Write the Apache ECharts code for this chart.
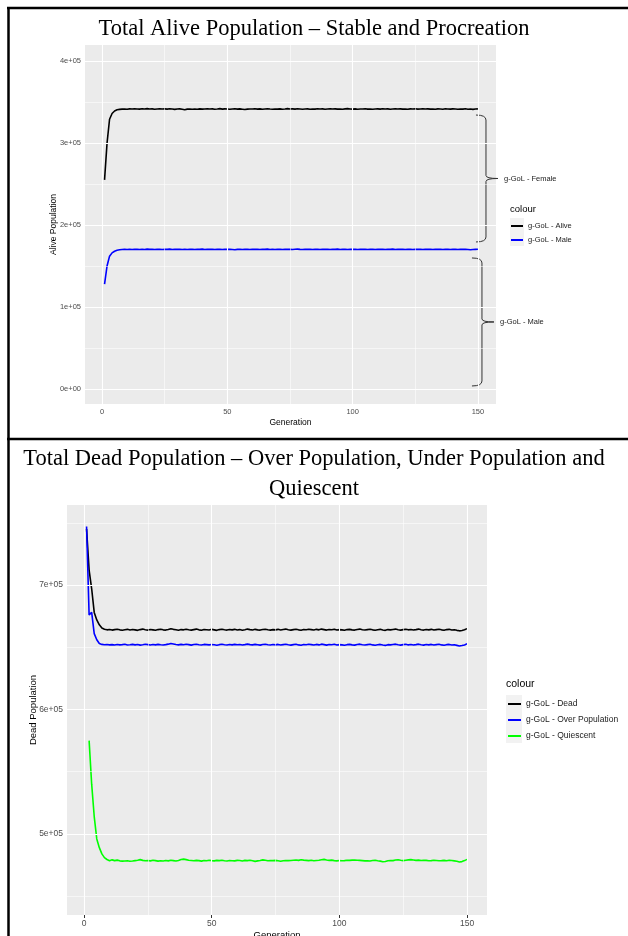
<!DOCTYPE html>
<html>
<head>
<meta charset="utf-8">
<script src="https://cdn.jsdelivr.net/npm/echarts@6/dist/echarts.min.js"></script>
<style>
  html, body { margin: 0; padding: 0; background: #fff; }
  #chart { width: 628px; height: 936px; }
</style>
</head>
<body>
<div id="chart"></div>
<script>
// generations 1..150
const generations = Array.from({ length: 150 }, (_, i) => i + 1);

// top panel values, thousands
const aliveK = [
  255, 300, 329, 336, 339, 340.5, 341.0, 341.3, 341.5, 341.2,
  341.6, 341.4, 341.8, 341.5, 341.3, 341.7, 341.5, 341.9, 341.4, 341.6,
  341.2, 341.5, 341.8, 341.4, 341.6, 341.3, 341.7, 341.5, 341.0, 341.4,
  341.6, 341.2, 340.6, 341.3, 341.5, 341.1, 341.4, 341.2, 341.6, 341.3,
  341.5, 341.8, 341.4, 341.6, 341.2, 341.5, 341.9, 341.3, 341.6, 341.4,
  341.1, 341.5, 341.7, 341.3, 341.6, 341.2, 340.8, 341.3, 341.5, 341.4,
  341.7, 341.3, 341.6, 341.2, 341.5, 341.8, 341.4, 341.1, 341.5, 341.3,
  341.6, 341.2, 341.5, 341.9, 341.4, 341.6, 341.3, 341.7, 341.5, 341.2,
  341.4, 341.6, 341.1, 341.5, 341.3, 341.7, 341.4, 341.6, 341.2, 341.5,
  341.8, 341.4, 341.6, 341.3, 341.5, 341.2, 341.6, 341.9, 341.5, 341.3,
  341.6, 341.2, 341.5, 341.4, 341.7, 341.3, 341.5, 341.1, 341.4, 341.6,
  341.3, 341.7, 341.4, 341.6, 341.2, 341.5, 341.8, 341.4, 341.6, 341.3,
  341.5, 341.2, 341.6, 341.4, 341.7, 341.3, 341.5, 341.8, 341.4, 341.6,
  341.3, 341.5, 341.1, 341.6, 341.4, 341.2, 341.7, 341.5, 341.3, 341.6,
  341.4, 341.1, 341.5, 341.3, 341.7, 341.2, 341.5, 341.0, 341.4, 341.6
];
const maleK = [
  128, 150, 162, 166, 168, 169.2, 169.8, 170.1, 170.3, 170.2,
  170.4, 170.2, 170.5, 170.3, 170.1, 170.4, 170.2, 170.6, 170.3, 170.4,
  170.1, 170.3, 170.5, 170.2, 170.4, 170.3, 170.6, 170.2, 170.4, 170.3,
  170.5, 170.2, 170.4, 170.1, 170.3, 170.5, 170.2, 170.4, 170.3, 170.6,
  170.2, 170.4, 170.3, 170.5, 170.1, 170.3, 170.4, 170.2, 170.5, 170.3,
  170.4, 170.2, 169.9, 170.3, 170.5, 170.2, 170.4, 170.3, 170.1, 170.4,
  170.3, 170.5, 170.2, 170.4, 170.3, 170.6, 170.2, 170.4, 170.1, 170.3,
  170.5, 170.2, 170.4, 170.3, 170.5, 170.2, 170.4, 170.6, 170.3, 170.2,
  170.4, 170.3, 170.5, 170.1, 170.3, 170.4, 170.2, 170.5, 170.3, 170.4,
  170.2, 170.4, 170.3, 170.6, 170.2, 170.4, 170.3, 170.1, 170.4, 170.3,
  170.5, 170.2, 170.4, 170.3, 170.5, 170.2, 170.4, 170.3, 170.1, 170.4,
  170.3, 170.5, 170.2, 170.4, 170.3, 170.6, 170.2, 170.4, 170.3, 170.5,
  170.2, 170.4, 170.3, 170.1, 170.4, 170.3, 170.5, 170.2, 170.4, 170.3,
  170.5, 170.2, 170.4, 170.3, 170.5, 170.2, 170.3, 170.4, 170.1, 170.3,
  170.4, 170.2, 170.5, 170.3, 170.4, 170.2, 169.9, 170.1, 170.3, 170.4
];

// bottom panel values, thousands
const deadK = [
  745, 712, 697, 678, 672, 668, 665.5, 664.5, 664.0, 664.3,
  663.8, 664.2, 664.5, 664.0, 663.7, 664.1, 664.4, 663.9, 664.3, 664.0,
  663.6, 664.2, 664.6, 664.1, 663.8, 664.3, 664.0, 663.7, 664.2, 664.5,
  664.0, 663.8, 664.3, 664.9, 664.4, 664.1, 663.7, 664.2, 664.0, 664.5,
  664.1, 663.8, 664.2, 664.6, 664.0, 663.7, 664.3, 664.1, 663.9, 664.4,
  664.0, 663.6, 664.2, 664.5, 664.1, 663.8, 664.3, 664.0, 664.4, 663.9,
  664.2, 663.7, 664.1, 664.6, 664.2, 663.9, 664.4, 664.0, 663.8, 664.3,
  664.5, 664.1, 663.8, 664.2, 664.0, 664.4, 663.9, 664.3, 664.6, 664.1,
  663.8, 664.2, 664.5, 664.0, 663.7, 664.3, 664.1, 664.5, 664.2, 663.9,
  664.4, 664.0, 664.6, 664.2, 663.8, 664.3, 664.1, 664.5, 663.9, 664.2,
  664.0, 663.7, 664.2, 664.4, 664.0, 663.8, 664.3, 664.6, 664.1, 663.9,
  664.2, 664.5, 664.0, 663.7, 664.1, 664.4, 663.9, 663.6, 664.2, 664.0,
  664.3, 664.6, 664.1, 663.8, 664.2, 664.5, 664.0, 664.3, 663.9, 664.2,
  664.6, 664.1, 663.8, 664.3, 664.0, 664.4, 663.9, 664.2, 664.5, 664.0,
  663.7, 664.2, 664.4, 663.9, 664.1, 663.6, 663.2, 663.5, 664.0, 665.0
];
const overK = [
  747, 676, 678, 661, 656, 653, 652.3, 652.0, 652.2, 651.9,
  652.1, 651.8, 652.2, 651.9, 652.1, 652.4, 651.8, 652.0, 652.3, 651.9,
  652.2, 651.7, 652.0, 652.4, 652.1, 651.8, 652.2, 651.9, 652.3, 652.0,
  651.8, 652.1, 652.5, 653.0, 652.6, 652.2, 651.9, 652.3, 652.0, 652.4,
  652.1, 651.7, 652.2, 652.4, 652.0, 651.8, 652.3, 652.1, 651.9, 652.2,
  652.0, 651.6, 652.1, 652.4, 652.0, 651.8, 652.2, 651.9, 652.3, 652.0,
  652.2, 651.8, 652.1, 652.5, 652.1, 651.9, 652.3, 652.0, 651.7, 652.2,
  652.4, 652.0, 651.8, 652.2, 651.9, 652.3, 651.8, 652.1, 652.4, 652.0,
  651.7, 652.1, 652.4, 651.9, 651.6, 652.2, 652.0, 652.4, 652.1, 651.8,
  652.3, 651.9, 652.5, 652.1, 651.7, 652.2, 652.0, 652.4, 651.8, 652.1,
  651.9, 651.6, 652.1, 652.3, 651.9, 651.7, 652.2, 652.5, 652.0, 651.8,
  652.1, 652.4, 651.9, 651.6, 652.0, 652.3, 651.8, 651.5, 652.1, 651.9,
  652.2, 652.5, 652.0, 651.7, 652.1, 652.4, 651.9, 652.2, 651.8, 652.1,
  652.5, 652.0, 651.7, 652.2, 651.9, 652.3, 651.8, 652.1, 652.4, 651.9,
  651.6, 652.1, 652.3, 651.8, 652.0, 651.5, 651.0, 651.4, 651.9, 652.8
];
const quiescentK = [
  null, 575, 540, 514, 496, 489, 484, 481, 479.5, 478.5,
  479.2, 478.6, 479.0, 478.4, 478.2, 478.3, 478.5, 478.1, 478.3, 478.6,
  478.9, 479.4, 478.8, 478.5, 478.7, 478.4, 478.9, 478.6, 478.2, 478.5,
  478.3, 478.7, 478.4, 478.9, 478.6, 478.3, 478.7, 479.5, 479.8, 479.4,
  478.9, 478.7, 478.5, 478.8, 478.6, 478.2, 478.7, 478.5, 478.9, 478.6,
  478.4, 478.8, 478.6, 478.9, 478.5, 478.3, 478.7, 478.5, 478.4, 478.8,
  478.7, 478.3, 478.8, 478.6, 478.9, 478.5, 478.0, 478.4, 478.7, 479.2,
  478.9, 478.5, 478.7, 478.6, 478.8, 478.5, 478.1, 478.5, 478.7, 478.6,
  478.7, 478.9, 479.1, 478.8, 479.3, 479.0, 478.8, 478.6, 478.9, 478.5,
  478.7, 478.9, 479.3, 479.6, 479.1, 478.8, 479.0, 478.6, 478.4, 478.7,
  478.5, 478.6, 478.9, 478.8, 479.0, 479.1, 478.9, 478.8, 478.6, 478.4,
  478.5, 478.3, 478.7, 478.9, 478.5, 478.2, 477.7, 477.9, 478.5, 478.7,
  478.6, 479.1, 479.3, 478.9, 478.6, 478.9, 479.2, 479.4, 479.1, 478.8,
  479.0, 478.7, 478.9, 478.8, 478.5, 478.6, 478.9, 478.7, 478.5, 478.6,
  478.8, 478.5, 478.9, 478.7, 478.4, 478.1, 477.5, 477.8, 478.6, 479.6
];

// ticks and labels
const xMajor = [0, 50, 100, 150];
const xMinor = [25, 75, 125];
const topYMajor = [0, 100000, 200000, 300000, 400000];
const topYMinor = [50000, 150000, 250000, 350000];
const topYLabels = ['0e+00', '1e+05', '2e+05', '3e+05', '4e+05'];
const botYMajor = [500000, 600000, 700000];
const botYMinor = [450000, 550000, 650000, 750000];
const botYLabels = ['5e+05', '6e+05', '7e+05'];

// braces on the top panel
const braceLabels = ['g-GoL - Female', 'g-GoL - Male'];
const braceLow = [179300, 3700];
const braceHigh = [334100, 159800];
const braceX = [153.2, 151.6];

const SANS = '"Liberation Sans", Arial, sans-serif';
const SERIF = '"Liberation Serif", "Times New Roman", serif';

const toPairs = (vals) => vals.map((v, i) => [generations[i], v == null ? null : v * 1000]);

function gridLines(xs, xsMinor, ys, ysMinor) {
  const major = { color: '#ffffff', width: 1.1, type: 'solid' };
  const minor = { color: '#ffffff', width: 0.55, type: 'solid' };
  return [
    ...xsMinor.map(v => ({ xAxis: v, lineStyle: minor })),
    ...ysMinor.map(v => ({ yAxis: v, lineStyle: minor })),
    ...xs.map(v => ({ xAxis: v, lineStyle: major })),
    ...ys.map(v => ({ yAxis: v, lineStyle: major }))
  ];
}

function valueAxis(idx, min, max, ticks, labels, size, extra) {
  return Object.assign({
    gridIndex: idx,
    type: 'value',
    min, max,
    axisLine: { show: false },
    axisTick: { show: true, customValues: ticks, length: 3, lineStyle: { color: '#333', width: 1 } },
    axisLabel: {
      customValues: ticks,
      color: '#4D4D4D',
      fontFamily: SANS,
      fontSize: size,
      margin: 4,
      formatter: labels ? (v) => labels[ticks.indexOf(v)] : (v) => String(v)
    },
    splitLine: { show: false },
    nameLocation: 'middle',
    nameMoveOverlap: false,
    nameTextStyle: { fontFamily: SANS, fontSize: size + 1, color: '#000' }
  }, extra);
}

const chart = echarts.init(document.getElementById('chart'));

const braceData = braceLabels.map((name, i) => [braceX[i], braceLow[i], braceHigh[i], name]);
const titleFont = { fontFamily: SERIF, fontWeight: 'normal', fontSize: 22.5, color: '#000' };

chart.setOption({
  animation: false,
  backgroundColor: '#ffffff',
  title: [
    { text: 'Total Alive Population \u2013 Stable and Procreation', left: 'center', top: 18, padding: 0, textStyle: titleFont },
    { text: 'Total Dead Population \u2013 Over Population, Under Population and', left: 'center', top: 448, padding: 0, textStyle: titleFont },
    { text: 'Quiescent', left: 'center', top: 478, padding: 0, textStyle: titleFont }
  ],
  grid: [
    { left: 85, top: 45, width: 411, height: 359, show: true, backgroundColor: '#EBEBEB', borderWidth: 0,
      containLabel: false, outerBoundsMode: 'none' },
    { left: 67, top: 505, width: 420, height: 410, show: true, backgroundColor: '#EBEBEB', borderWidth: 0,
      containLabel: false, outerBoundsMode: 'none' }
  ],
  xAxis: [
    valueAxis(0, -6.8, 157.2, xMajor, null, 7.5, { name: 'Generation', nameGap: 14 }),
    valueAxis(1, -6.66, 157.8, xMajor, null, 8.5, { name: 'Generation', nameGap: 15 })
  ],
  yAxis: [
    valueAxis(0, -18300, 419500, topYMajor, topYLabels, 7.5, { name: 'Alive Population', nameGap: 27 }),
    valueAxis(1, 434900, 764300, botYMajor, botYLabels, 8.5, { name: 'Dead Population', nameGap: 29 })
  ],
  legend: [
    {
      data: ['g-GoL - Alive', 'g-GoL - Male'],
      orient: 'vertical', left: 511, top: 219, padding: 0,
      icon: 'rect', itemWidth: 12, itemHeight: 2, itemGap: 0,
      selectedMode: false,
      textStyle: { fontFamily: SANS, fontSize: 7.5, lineHeight: 14, color: '#222' }
    },
    {
      data: ['g-GoL - Dead', 'g-GoL - Over Population', 'g-GoL - Quiescent'],
      orient: 'vertical', left: 508, top: 696, padding: 0,
      icon: 'rect', itemWidth: 13, itemHeight: 2, itemGap: 0,
      selectedMode: false,
      textStyle: { fontFamily: SANS, fontSize: 8.5, lineHeight: 16, color: '#222' }
    }
  ],
  graphic: [
    { type: 'line', shape: { x1: 7, y1: 8, x2: 628, y2: 8 }, style: { stroke: '#000', lineWidth: 2.5 } },
    { type: 'line', shape: { x1: 8.5, y1: 7, x2: 8.5, y2: 936 }, style: { stroke: '#000', lineWidth: 2.5 } },
    { type: 'line', shape: { x1: 7, y1: 439, x2: 628, y2: 439 }, style: { stroke: '#000', lineWidth: 2.5 } },
    { type: 'rect', shape: { x: 510, y: 218, width: 14, height: 28 }, style: { fill: '#F2F2F2' } },
    { type: 'rect', shape: { x: 506, y: 695, width: 16, height: 48 }, style: { fill: '#F2F2F2' } },
    { type: 'text', left: 510, top: 204, style: { text: 'colour', font: '9.5px ' + SANS, fill: '#000' } },
    { type: 'text', left: 506, top: 679, style: { text: 'colour', font: '10.5px ' + SANS, fill: '#000' } }
  ],
  series: [
    {
      type: 'line', xAxisIndex: 0, yAxisIndex: 0, data: [], silent: true, z: 1,
      markLine: { silent: true, symbol: ['none', 'none'], label: { show: false },
        data: gridLines(xMajor, xMinor, topYMajor, topYMinor) }
    },
    {
      type: 'line', xAxisIndex: 1, yAxisIndex: 1, data: [], silent: true, z: 1,
      markLine: { silent: true, symbol: ['none', 'none'], label: { show: false },
        data: gridLines(xMajor, xMinor, botYMajor, botYMinor) }
    },
    {
      name: 'g-GoL - Alive', type: 'line', xAxisIndex: 0, yAxisIndex: 0, data: toPairs(aliveK),
      symbol: 'none', z: 3, lineStyle: { color: '#000000', width: 1.6 }, itemStyle: { color: '#000000' }
    },
    {
      name: 'g-GoL - Male', type: 'line', xAxisIndex: 0, yAxisIndex: 0, data: toPairs(maleK),
      symbol: 'none', z: 3, lineStyle: { color: '#0000FF', width: 1.6 }, itemStyle: { color: '#0000FF' }
    },
    {
      name: 'g-GoL - Dead', type: 'line', xAxisIndex: 1, yAxisIndex: 1, data: toPairs(deadK),
      symbol: 'none', z: 3, lineStyle: { color: '#000000', width: 1.6 }, itemStyle: { color: '#000000' }
    },
    {
      name: 'g-GoL - Over Population', type: 'line', xAxisIndex: 1, yAxisIndex: 1, data: toPairs(overK),
      symbol: 'none', z: 3, lineStyle: { color: '#0000FF', width: 1.6 }, itemStyle: { color: '#0000FF' }
    },
    {
      name: 'g-GoL - Quiescent', type: 'line', xAxisIndex: 1, yAxisIndex: 1, data: toPairs(quiescentK),
      symbol: 'none', z: 3, lineStyle: { color: '#00FF00', width: 1.6 }, itemStyle: { color: '#00FF00' }
    },
    {
      type: 'custom', xAxisIndex: 0, yAxisIndex: 0, data: braceData, clip: false, silent: true, z: 4,
      encode: { x: 0, y: [1, 2] },
      renderItem: (params, api) => {
        const top = api.coord([api.value(0), api.value(2)]);
        const bot = api.coord([api.value(0), api.value(1)]);
        const px = top[0], ty = top[1], by = bot[1], my = (ty + by) / 2;
        const d = 'M' + (px - 10) + ',' + ty + ' Q' + px + ',' + ty + ' ' + px + ',' + (ty + 5) +
          ' L' + px + ',' + (my - 3) + ' Q' + px + ',' + my + ' ' + (px + 12) + ',' + my +
          ' M' + (px + 12) + ',' + my + ' Q' + px + ',' + my + ' ' + px + ',' + (my + 3) +
          ' L' + px + ',' + (by - 5) + ' Q' + px + ',' + by + ' ' + (px - 10) + ',' + by;
        return {
          type: 'group',
          children: [
            { type: 'path', shape: { pathData: d }, style: { fill: 'none', stroke: '#333', lineWidth: 1 } },
            { type: 'text', x: px + 18, y: my,
              style: { text: braceLabels[params.dataIndex], font: '7.5px ' + SANS, fill: '#222', verticalAlign: 'middle' } }
          ]
        };
      }
    }
  ]
});
</script>
</body>
</html>
